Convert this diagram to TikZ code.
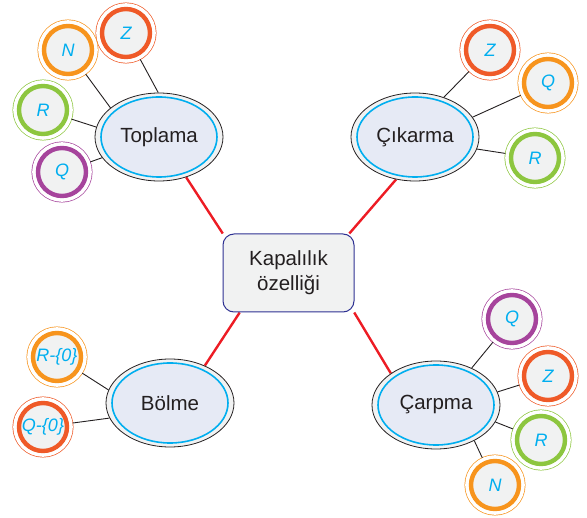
\documentclass[tikz,border=0pt]{standalone}
\usepackage{fontspec}
\setmainfont{Liberation Sans}
\usetikzlibrary{shapes.geometric,backgrounds}
\definecolor{turuncu}{HTML}{F7941D}
\definecolor{kiremit}{HTML}{EF5A28}
\definecolor{yesil}{HTML}{8DC63F}
\definecolor{mor}{HTML}{A6449C}
\definecolor{mavi}{HTML}{00AEEF}
\definecolor{kirmizi}{HTML}{ED1C24}
\definecolor{lacivert}{HTML}{2E3192}
\definecolor{koyu}{HTML}{231F20}
\definecolor{zemin}{HTML}{F1F2F2}
\definecolor{lila}{HTML}{E6EAF5}
\begin{document}
\begin{tikzpicture}[x=1pt,y=-1pt,
	kume/.style={circle,minimum size=48pt,inner sep=0pt,outer sep=6pt,fill=zemin,draw=#1,line width=4.4pt,
		preaction={draw=#1,line width=13pt},preaction={draw=white,line width=11.6pt},
		font=\fontsize{18}{18}\selectfont\itshape,text=mavi},
	islem/.style={ellipse,minimum width=128pt,minimum height=88pt,inner sep=0pt,draw=koyu,line width=0.8pt,fill=zemin,
		path picture={\draw[mavi,line width=1.6pt,fill=lila] (path picture bounding box.center) ellipse (58pt and 40pt);},
		font=\fontsize{20.5}{25}\selectfont,text=koyu},
	kutu/.style={rectangle,rounded corners=11pt,minimum width=131pt,minimum height=78pt,draw=lacivert,line width=1pt,
		fill=zemin,align=center,font=\fontsize{20.5}{25}\selectfont,text=koyu},
	bag/.style={draw=koyu,line width=0.9pt},
	kol/.style={draw=kirmizi,line width=2.4pt}]
	\useasboundingbox (0,0) rectangle (587,518);
	%%Merkez ve dört işlem
	\node[kutu] (kapali) at (288.5,273) {Kapalılık\\özelliği};
	\node[islem] (top) at (159,137) {Toplama};
	\node[islem] (cik) at (415,137) {Çıkarma};
	\node[islem] (bol) at (170,403) {Bölme};
	\node[islem] (carp) at (436,405) {Çarpma};
	\begin{scope}[on background layer]
		\draw[kol] (top.-56)--(kapali.149);
		\draw[kol] (cik.-114)--(kapali.33);
		\draw[kol] (bol.47)--(kapali.219);
		\draw[kol] (carp.145)--(kapali.-31);
	\end{scope}
	%%Toplama
	\node[kume=kiremit] (topZ) at (126,33) {Z};
	\node[kume=turuncu] (topN) at (68,50) {N};
	\node[kume=yesil] (topR) at (43,110) {R};
	\node[kume=mor] (topQ) at (62,172) {Q};
	\draw[bag] (topZ)--(top.91) (topN)--(top.149) (topR)--(top.171) (topQ)--(top.200);
	%%Çıkarma
	\node[kume=kiremit] (cikZ) at (490,50) {Z};
	\node[kume=turuncu] (cikQ) at (548,83) {Q};
	\node[kume=yesil] (cikR) at (535,158) {R};
	\draw[bag] (cikZ)--(cik.54) (cikQ)--(cik.19) (cikR)--(cik.-11);
	%%Bölme
	\node[kume=turuncu] (bolR) at (57,357) {R-\{0\}};
	\node[kume=kiremit] (bolQ) at (43,427) {Q-\{0\}};
	\draw[bag] (bolR)--(bol.168) (bolQ)--(bol.194);
	%%Çarpma
	\node[kume=mor] (carpQ) at (512,319) {Q};
	\node[kume=kiremit] (carpZ) at (548,376) {Z};
	\node[kume=yesil] (carpR) at (541,440) {R};
	\node[kume=turuncu] (carpN) at (495,485) {N};
	\draw[bag] (carpQ)--(carp.46) (carpZ)--(carp.12) (carpR)--(carp.-16) (carpN)--(carp.-43);
\end{tikzpicture}
\end{document}
